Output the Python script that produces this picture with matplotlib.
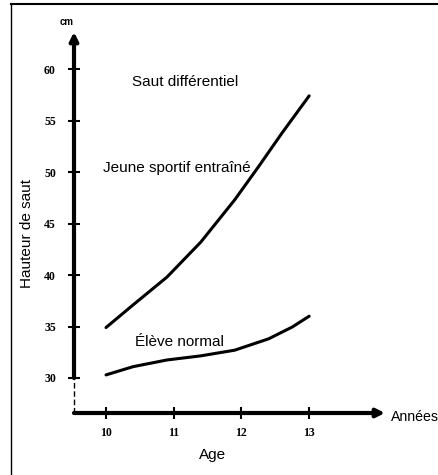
import matplotlib
matplotlib.use("Agg")
import matplotlib.pyplot as plt
import matplotlib.transforms as mtransforms
from matplotlib.lines import Line2D

# Données (hauteur de saut en cm selon l'âge)
ages_sportif = [10, 10.4, 10.9, 11.4, 11.9, 12.25, 12.6, 13]
sportif = [34.9, 37.1, 39.8, 43.2, 47.3, 50.5, 53.8, 57.4]
ages_normal = [10, 10.4, 10.9, 11.4, 11.9, 12.4, 12.75, 13]
normal = [30.3, 31.1, 31.75, 32.15, 32.7, 33.8, 34.95, 36.0]

x_ticks = [10, 11, 12, 13]
y_ticks = [30, 35, 40, 45, 50, 55, 60]

plt.rcParams['font.family'] = ['Liberation Sans', 'DejaVu Sans']

fig = plt.figure(figsize=(4.39, 4.75), dpi=100)
ax = fig.add_axes([74 / 439, 62 / 475, 311 / 439, 381 / 475])

xmin, xmax = 9.527, 14.12
ymin, ymax = 26.6, 63.6
ax.set_xlim(xmin, xmax)
ax.set_ylim(ymin, ymax)

# Courbes
ax.plot(ages_sportif, sportif, color='black', lw=2.2, solid_capstyle='round',
        solid_joinstyle='round')
ax.plot(ages_normal, normal, color='black', lw=2.2, solid_capstyle='round',
        solid_joinstyle='round')

# Axes avec flèches
for s in ax.spines.values():
    s.set_visible(False)
ax.annotate('', xy=(0, ymax), xytext=(0, 30), xycoords=('axes fraction', 'data'),
            textcoords=('axes fraction', 'data'),
            arrowprops=dict(arrowstyle='-|>', lw=3, color='black',
                            mutation_scale=12, shrinkA=0, shrinkB=0))
ax.annotate('', xy=(1.0, 0), xytext=(0, 0), xycoords='axes fraction',
            arrowprops=dict(arrowstyle='-|>', lw=3, color='black',
                            mutation_scale=12, shrinkA=0, shrinkB=0))
trans = mtransforms.blended_transform_factory(ax.transAxes, ax.transData)
ax.plot([0, 0], [ymin, 30], transform=trans, color='black', lw=1,
        ls=(0, (4, 2)), clip_on=False)

ax.set_xticks(x_ticks)
ax.set_yticks(y_ticks)
ax.set_xticklabels([str(t) for t in x_ticks], fontfamily='Liberation Serif',
                   fontweight='bold', fontsize=8.5)
ax.set_yticklabels([str(t) for t in y_ticks], fontfamily='Liberation Serif',
                   fontweight='bold', fontsize=8.5)
ax.tick_params(axis='both', direction='inout', length=8, width=1.5)
ax.tick_params(axis='y', pad=9)
ax.tick_params(axis='x', pad=6)

ax.set_xlabel('Age', fontsize=11)
ax.set_ylabel('Hauteur de saut', fontsize=11)
ax.xaxis.set_label_coords((213 - 74) / 311, -(452 - 413) / 381 + 0.01)
ax.yaxis.set_label_coords((28 - 74) / 311 + 0.02, (413 - 234) / 381)

# Textes
ax.text(11.17, 58.7, 'Saut différentiel', fontsize=11, ha='center', va='center')
ax.text(9.96, 50.4, 'Jeune sportif entraîné', fontsize=11, ha='left', va='center')
ax.text(10.43, 33.5, 'Élève normal', fontsize=11, ha='left', va='center')
ax.text(9.42, 64.6, 'cm', fontsize=7, fontweight='bold', ha='center',
        va='center', clip_on=False)
ax.text(14.21, 26.2, 'Années', fontsize=10.2, ha='left', va='center', clip_on=False)

# Cadre
fig.add_artist(Line2D([11 / 439, 11 / 439], [0, 1 - 4 / 475],
                      transform=fig.transFigure, color='black', lw=1))
fig.add_artist(Line2D([11 / 439, 1], [1 - 4 / 475, 1 - 4 / 475],
                      transform=fig.transFigure, color='black', lw=1.5))

fig.savefig('out.png', dpi=100)
